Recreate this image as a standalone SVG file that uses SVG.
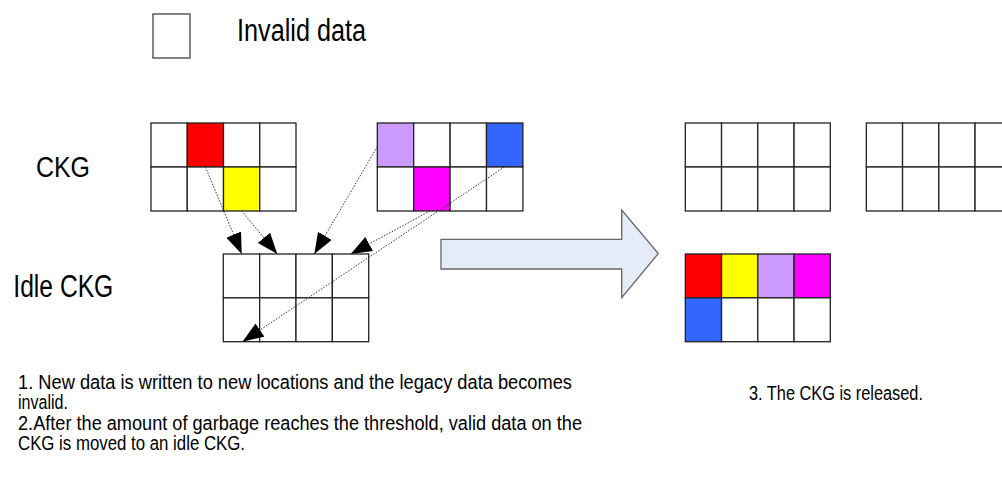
<svg xmlns="http://www.w3.org/2000/svg" width="1002" height="477" viewBox="0 0 1002 477">
  <style>
    .cell { fill: #ffffff; stroke: #222222; stroke-width: 1.3; }
    .red { fill: #ff0000; }
    .yel { fill: #ffff00; }
    .lav { fill: #cc99ff; }
    .mag { fill: #ff00ff; }
    .blu { fill: #3366ff; }
    .lbl { font-family: "Liberation Sans", Arial, sans-serif; fill: #000000; }
    .note { font-family: "Liberation Sans", Arial, sans-serif; font-size: 19.5px; fill: #000000; }
    .link { fill: none; stroke: #333333; stroke-width: 1; stroke-dasharray: 1.5 1.5; marker-end: url(#tri); }
  </style>
  <defs>
    <marker id="tri" markerUnits="userSpaceOnUse" markerWidth="21" markerHeight="16" refX="21" refY="8" orient="auto">
      <path d="M0,0 L21,8 L0,16 z" fill="#000000"/>
    </marker>
  </defs>
  <rect width="1002" height="477" fill="#ffffff"/>

  <!-- legend -->
  <g id="legend">
    <rect class="cell" x="153" y="14" width="37" height="44" style="stroke:#444444"/>
    <text class="lbl" x="237" y="40.7" font-size="31" textLength="129" lengthAdjust="spacingAndGlyphs">Invalid data</text>
  </g>

  <!-- row labels -->
  <g id="label-ckg">
    <text class="lbl" x="36" y="176.7" font-size="30" textLength="54" lengthAdjust="spacingAndGlyphs">CKG</text>
  </g>
  <g id="label-idle">
    <text class="lbl" x="13.3" y="296.7" font-size="31" textLength="100" lengthAdjust="spacingAndGlyphs">Idle CKG</text>
  </g>

  <!-- CKG A: 4x2 chunk grid -->
  <g id="ckg-a">
    <rect class="cell" x="151" y="123" width="36.25" height="44"/>
    <rect class="cell red" x="187.25" y="123" width="36.25" height="44"/>
    <rect class="cell" x="223.5" y="123" width="36.25" height="44"/>
    <rect class="cell" x="259.75" y="123" width="36.25" height="44"/>
    <rect class="cell" x="151" y="167" width="36.25" height="44"/>
    <rect class="cell" x="187.25" y="167" width="36.25" height="44"/>
    <rect class="cell yel" x="223.5" y="167" width="36.25" height="44"/>
    <rect class="cell" x="259.75" y="167" width="36.25" height="44"/>
  </g>

  <!-- CKG B -->
  <g id="ckg-b">
    <rect class="cell lav" x="377.3" y="123" width="36.4" height="44"/>
    <rect class="cell" x="413.7" y="123" width="36.4" height="44"/>
    <rect class="cell" x="450.1" y="123" width="36.4" height="44"/>
    <rect class="cell blu" x="486.5" y="123" width="36.4" height="44"/>
    <rect class="cell" x="377.3" y="167" width="36.4" height="44"/>
    <rect class="cell mag" x="413.7" y="167" width="36.4" height="44"/>
    <rect class="cell" x="450.1" y="167" width="36.4" height="44"/>
    <rect class="cell" x="486.5" y="167" width="36.4" height="44"/>
  </g>

  <!-- idle CKG receiving the valid data -->
  <g id="ckg-idle">
    <rect class="cell" x="223.3" y="254" width="36.35" height="43.85"/>
    <rect class="cell" x="259.65" y="254" width="36.35" height="43.85"/>
    <rect class="cell" x="296" y="254" width="36.35" height="43.85"/>
    <rect class="cell" x="332.35" y="254" width="36.35" height="43.85"/>
    <rect class="cell" x="223.3" y="297.85" width="36.35" height="43.85"/>
    <rect class="cell" x="259.65" y="297.85" width="36.35" height="43.85"/>
    <rect class="cell" x="296" y="297.85" width="36.35" height="43.85"/>
    <rect class="cell" x="332.35" y="297.85" width="36.35" height="43.85"/>
  </g>

  <!-- released CKG A -->
  <g id="ckg-a-free">
    <rect class="cell" x="685.3" y="123" width="36.25" height="44"/>
    <rect class="cell" x="721.55" y="123" width="36.25" height="44"/>
    <rect class="cell" x="757.8" y="123" width="36.25" height="44"/>
    <rect class="cell" x="794.05" y="123" width="36.25" height="44"/>
    <rect class="cell" x="685.3" y="167" width="36.25" height="44"/>
    <rect class="cell" x="721.55" y="167" width="36.25" height="44"/>
    <rect class="cell" x="757.8" y="167" width="36.25" height="44"/>
    <rect class="cell" x="794.05" y="167" width="36.25" height="44"/>
  </g>

  <!-- released CKG B -->
  <g id="ckg-b-free">
    <rect class="cell" x="866.3" y="123" width="36.25" height="44"/>
    <rect class="cell" x="902.55" y="123" width="36.25" height="44"/>
    <rect class="cell" x="938.8" y="123" width="36.25" height="44"/>
    <rect class="cell" x="975.05" y="123" width="36.25" height="44"/>
    <rect class="cell" x="866.3" y="167" width="36.25" height="44"/>
    <rect class="cell" x="902.55" y="167" width="36.25" height="44"/>
    <rect class="cell" x="938.8" y="167" width="36.25" height="44"/>
    <rect class="cell" x="975.05" y="167" width="36.25" height="44"/>
  </g>

  <!-- compacted CKG -->
  <g id="ckg-full">
    <rect class="cell red" x="685.3" y="254" width="36.25" height="43.85"/>
    <rect class="cell yel" x="721.55" y="254" width="36.25" height="43.85"/>
    <rect class="cell lav" x="757.8" y="254" width="36.25" height="43.85"/>
    <rect class="cell mag" x="794.05" y="254" width="36.25" height="43.85"/>
    <rect class="cell blu" x="685.3" y="297.85" width="36.25" height="43.85"/>
    <rect class="cell" x="721.55" y="297.85" width="36.25" height="43.85"/>
    <rect class="cell" x="757.8" y="297.85" width="36.25" height="43.85"/>
    <rect class="cell" x="794.05" y="297.85" width="36.25" height="43.85"/>
  </g>

  <!-- block arrow between the two stages -->
  <g id="step-arrow">
    <polygon points="441,239.3 621.7,239.3 621.7,210 658.3,253.5 621.7,297.7 621.7,269 441,269" fill="#e6ecf7" stroke="#666666" stroke-width="1.3" stroke-linejoin="miter"/>
  </g>

  <!-- data moves -->
  <g id="connectors">
    <line class="link" x1="205.4" y1="167" x2="241.7" y2="254"/>
    <line class="link" x1="241.7" y1="211" x2="277.3" y2="254"/>
    <line class="link" x1="377.3" y1="146.7" x2="314.3" y2="254"/>
    <line class="link" x1="430" y1="211" x2="350.7" y2="254"/>
    <line class="link" x1="504.3" y1="167" x2="242.5" y2="341.7"/>
  </g>

  <!-- notes -->
  <g id="notes">
    <text class="note" x="18" y="388.5" textLength="554" lengthAdjust="spacingAndGlyphs">1. New data is written to new locations and the legacy data becomes</text>
    <text class="note" x="18" y="409" textLength="50" lengthAdjust="spacingAndGlyphs">invalid.</text>
    <text class="note" x="18" y="429.5" textLength="564" lengthAdjust="spacingAndGlyphs">2.After the amount of garbage reaches the threshold, valid data on the</text>
    <text class="note" x="18" y="450" textLength="227" lengthAdjust="spacingAndGlyphs">CKG is moved to an idle CKG.</text>
    <text class="note" x="749" y="400" textLength="174" lengthAdjust="spacingAndGlyphs">3. The CKG is released.</text>
  </g>
</svg>
